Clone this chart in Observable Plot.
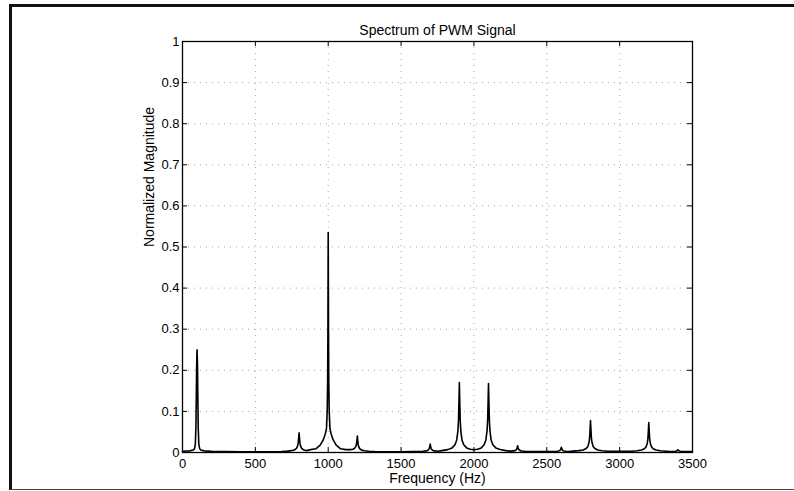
<!DOCTYPE html>
<html><head><meta charset="utf-8">
<script src="https://cdn.jsdelivr.net/npm/d3@7"></script>
<script src="https://cdn.jsdelivr.net/npm/@observablehq/plot@0.6"></script>
<style>
html,body{margin:0;padding:0;background:#fff;}
#wrap{position:relative;width:794px;height:491px;overflow:hidden;background:#fff;}
#wrap svg{position:absolute;left:0;top:0;}
#border{position:absolute;left:9px;top:4px;width:800px;height:482px;border-left:3px solid #111;border-top:3px solid #111;border-bottom:1px solid #444;pointer-events:none;z-index:2;}
</style></head><body>
<div id="wrap"><div id="border"></div></div>
<script>
const titleText = "Spectrum of PWM Signal";
const xLabelText = "Frequency (Hz)";
const yLabelText = "Normalized Magnitude";
const xTicks = [0, 500, 1000, 1500, 2000, 2500, 3000, 3500];
const yTicks = [0, 0.1, 0.2, 0.3, 0.4, 0.5, 0.6, 0.7, 0.8, 0.9, 1];

// spectrum: [frequency (Hz), normalized magnitude]
const seg100 = [[0,0.003],[50,0.004],[75,0.006],[82,0.009],[88,0.02],[92,0.06],[95,0.14],[97,0.21],[100,0.25],[103,0.21],[105,0.14],[108,0.06],[112,0.02],[118,0.009],[125,0.006],[150,0.004],[200,0.003],[300,0.0025],[400,0.002],[500,0.002],[600,0.002]];
const seg800 = [[680,0.0026],[720,0.0034],[750,0.0045],[770,0.0066],[782,0.010],[790,0.016],[794,0.023],[797,0.034],[800,0.048],[803,0.034],[806,0.023],[810,0.016],[818,0.010],[830,0.0066],[850,0.0045],[880,0.007]];
const seg1000 = [[915,0.009],[945,0.018],[965,0.03],[980,0.045],[988,0.058],[993,0.10],[996,0.17],[998,0.30],[1000,0.535],[1002,0.30],[1004,0.17],[1007,0.10],[1012,0.058],[1020,0.045],[1035,0.03],[1055,0.018],[1085,0.009],[1120,0.007]];
const seg1200 = [[1150,0.007],[1170,0.0078],[1182,0.0105],[1190,0.015],[1194,0.020],[1197,0.029],[1200,0.040],[1203,0.0286],[1206,0.019],[1210,0.0134],[1218,0.0085],[1230,0.0058],[1250,0.0041],[1280,0.0031],[1320,0.0025],[1400,0.002],[1500,0.002],[1580,0.0022]];
const seg1700 = [[1620,0.0026],[1650,0.003],[1670,0.0039],[1682,0.0051],[1690,0.0076],[1694,0.0103],[1697,0.015],[1700,0.0205],[1703,0.015],[1706,0.0103],[1710,0.0076],[1718,0.0051],[1730,0.0039],[1750,0.003],[1780,0.0046]];
const seg1900 = [[1820,0.007],[1850,0.0112],[1870,0.0188],[1882,0.0306],[1890,0.0524],[1894,0.0776],[1897,0.12],[1900,0.17],[1903,0.12],[1906,0.0776],[1910,0.0524],[1918,0.0306],[1930,0.0188],[1950,0.0112],[1975,0.008],[2000,0.0065]];
const seg2100 = [[2025,0.008],[2050,0.0112],[2070,0.0188],[2082,0.0306],[2090,0.0524],[2094,0.0776],[2097,0.12],[2100,0.168],[2103,0.12],[2106,0.0776],[2110,0.0524],[2118,0.0306],[2130,0.0188],[2150,0.0112],[2180,0.0072],[2220,0.0045]];
const seg2300 = [[2250,0.0033],[2270,0.004],[2282,0.0045],[2290,0.0064],[2294,0.0085],[2297,0.0122],[2300,0.0165],[2303,0.0122],[2306,0.0085],[2310,0.0064],[2318,0.0045],[2330,0.0035],[2350,0.0028],[2380,0.0024],[2420,0.0022]];
const seg2600 = [[2480,0.0021],[2520,0.0023],[2550,0.0026],[2570,0.0031],[2582,0.0038],[2590,0.0052],[2594,0.0067],[2597,0.0094],[2600,0.0125],[2603,0.0094],[2606,0.0067],[2610,0.0052],[2618,0.0038],[2630,0.0031],[2650,0.0026],[2680,0.0033]];
const seg2800 = [[2720,0.0045],[2750,0.0062],[2770,0.0096],[2782,0.0149],[2790,0.0248],[2794,0.0362],[2797,0.0552],[2800,0.078],[2803,0.0552],[2806,0.0362],[2810,0.0248],[2818,0.0149],[2830,0.0096],[2850,0.0062],[2880,0.0043],[2920,0.0029],[3000,0.003]];
const seg3200 = [[3080,0.0029],[3120,0.0041],[3150,0.0059],[3170,0.0091],[3182,0.0141],[3190,0.0233],[3194,0.034],[3197,0.0517],[3200,0.073],[3203,0.0517],[3206,0.034],[3210,0.0233],[3218,0.0141],[3230,0.0091],[3250,0.0059],[3280,0.0042],[3320,0.0032]];
const seg3400 = [[3350,0.0025],[3370,0.0025],[3382,0.0029],[3390,0.0035],[3394,0.0043],[3397,0.0055],[3400,0.007],[3403,0.0055],[3406,0.0043],[3410,0.0035],[3418,0.0029],[3430,0.0025],[3450,0.0023],[3500,0.0022]];

const spectrum = [seg100, seg800, seg1000, seg1200, seg1700, seg1900, seg2100, seg2300, seg2600, seg2800, seg3200, seg3400]
  .flat().map(([f, m]) => ({f, m}));

const W = 794, H = 491;
const mL = 182, mR = 102, mT = 41, mB = 39;
const xDom = [0, 3500], yDom = [0, 1];
const tickPx = 5;
const tickLenX = tickPx * (xDom[1] - xDom[0]) / (W - mL - mR);
const tickLenY = tickPx * (yDom[1] - yDom[0]) / (H - mT - mB);

const chart = Plot.plot({
  width: W, height: H,
  marginLeft: mL, marginRight: mR, marginTop: mT, marginBottom: mB,
  style: {fontFamily: "'Liberation Sans', Arial, Helvetica, sans-serif", fontSize: "13px", color: "#000", background: "transparent"},
  x: {domain: xDom, ticks: xTicks, tickSize: 0, tickPadding: 6, tickFormat: d => String(d), label: null},
  y: {domain: yDom, ticks: yTicks, tickSize: 0, tickPadding: 3, tickFormat: d => String(d), label: null},
  marks: [
    Plot.ruleX(xTicks, {stroke: "#000", strokeOpacity: 0.35, strokeDasharray: "1,5", strokeWidth: 1}),
    Plot.ruleY(yTicks, {stroke: "#000", strokeOpacity: 0.35, strokeDasharray: "1,5", strokeWidth: 1}),
    Plot.ruleX(xTicks, {y1: yDom[0], y2: yDom[0] + tickLenY, stroke: "#000"}),
    Plot.ruleX(xTicks, {y1: yDom[1], y2: yDom[1] - tickLenY, stroke: "#000"}),
    Plot.ruleY(yTicks, {x1: xDom[0], x2: xDom[0] + tickLenX, stroke: "#000"}),
    Plot.ruleY(yTicks, {x1: xDom[1], x2: xDom[1] - tickLenX, stroke: "#000"}),
    Plot.line(spectrum, {x: "f", y: "m", stroke: "#000", strokeWidth: 1.6}),
    Plot.frame({stroke: "#000", strokeWidth: 1.3}),
    Plot.text([titleText], {text: d => d, frameAnchor: "top", dy: -16, fontSize: 14, fill: "#000"}),
    Plot.text([xLabelText], {text: d => d, frameAnchor: "bottom", dy: 30, fontSize: 14, fill: "#000"}),
    Plot.text([yLabelText], {text: d => d, frameAnchor: "left", dx: -33, rotate: -90, fontSize: 14, fill: "#000"})
  ]
});
document.getElementById("wrap").insertBefore(chart, document.getElementById("border"));
</script>
</body></html>
